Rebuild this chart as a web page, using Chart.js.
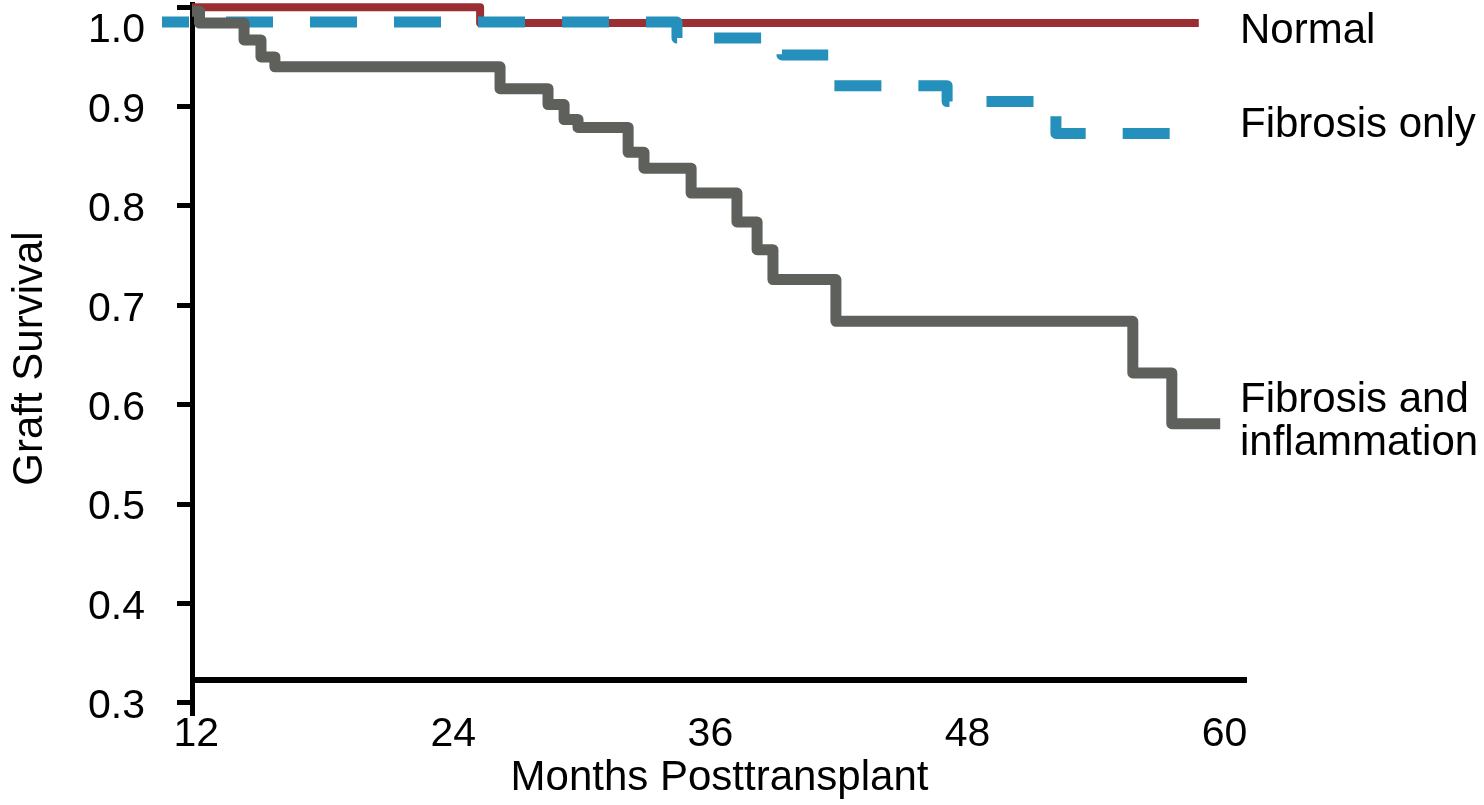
<!DOCTYPE html>
<html>
<head>
<meta charset="utf-8">
<title>Graft Survival</title>
<script src="https://cdn.jsdelivr.net/npm/chart.js@4"></script>
<style>
  html, body { margin: 0; padding: 0; background: #fff; }
  #wrap { width: 1484px; height: 805px; position: relative; }
</style>
</head>
<body>
<div id="wrap"><canvas id="survivalChart"></canvas></div>
<script>
// Kaplan-Meier style graft survival
const X_TICKS = [12, 24, 36, 48, 60];
const Y_TICKS = [0.3, 0.4, 0.5, 0.6, 0.7, 0.8, 0.9, 1.0];

const NORMAL_MONTHS = [11.8, 25.25, 58.8];
const NORMAL_SURV = [1.0, 0.984, 0.984];

const FIBROSIS_MONTHS = [10.4, 34.44, 39.34, 41.63, 47.05, 52.13, 58.8];
const FIBROSIS_SURV = [0.985, 0.969, 0.952, 0.921, 0.905, 0.873, 0.873];

const INFLAM_MONTHS = [11.8, 12.15, 14.23, 15.02, 15.67, 26.18, 28.42, 29.17, 29.82,
  32.16, 32.9, 35.1, 37.24, 38.18, 38.92, 41.86, 55.72, 57.54, 59.8];
const INFLAM_SURV = [0.996, 0.984, 0.967, 0.950, 0.940, 0.918, 0.902, 0.887, 0.879,
  0.854, 0.838, 0.813, 0.784, 0.756, 0.726, 0.684, 0.632, 0.581, 0.581];

const SERIES_LABELS = [["Normal"], ["Fibrosis only"], ["Fibrosis and", "inflammation"]];

const X_AXIS_AT = 0.3231; // where the horizontal axis line sits on the y scale

const FONT = '"Liberation Sans", Arial, Helvetica, sans-serif';
Chart.defaults.font.family = FONT;
Chart.defaults.color = "#000";

function toPoints(xs, ys) {
  return xs.map((x, i) => ({ x: x, y: ys[i] }));
}

// axis line + end labels
const extras = {
  id: "extras",
  afterDraw(chart) {
    const ctx = chart.ctx;
    const area = chart.chartArea;
    const yAxis = chart.scales.y;

    const yLine = yAxis.getPixelForValue(X_AXIS_AT);
    ctx.save();
    ctx.strokeStyle = "#000";
    ctx.lineWidth = 6;
    ctx.beginPath();
    ctx.moveTo(area.left, yLine);
    ctx.lineTo(area.right, yLine);
    ctx.stroke();

    ctx.fillStyle = "#000";
    ctx.font = "42px " + FONT;
    ctx.textAlign = "left";
    ctx.textBaseline = "alphabetic";
    const baselines = [[43], [137], [412, 455]];
    SERIES_LABELS.forEach((lines, i) => {
      lines.forEach((txt, j) => ctx.fillText(txt, 1240, baselines[i][j]));
    });
    ctx.restore();
  }
};

new Chart(document.getElementById("survivalChart"), {
  type: "line",
  data: {
    datasets: [
      {
        label: "Fibrosis and inflammation",
        data: toPoints(INFLAM_MONTHS, INFLAM_SURV),
        borderColor: "#5e605c",
        borderWidth: 11,
        stepped: "before",
        borderJoinStyle: "round",
        borderCapStyle: "butt",
        pointRadius: 0,
        clip: false
      },
      {
        label: "Fibrosis only",
        data: toPoints(FIBROSIS_MONTHS, FIBROSIS_SURV),
        borderColor: "#2590bb",
        borderWidth: 11,
        borderDash: [47, 37],
        borderDashOffset: 20,
        stepped: "before",
        borderJoinStyle: "round",
        borderCapStyle: "butt",
        pointRadius: 0,
        clip: false
      },
      {
        label: "Normal",
        data: toPoints(NORMAL_MONTHS, NORMAL_SURV),
        borderColor: "#9a2e33",
        borderWidth: 8,
        stepped: "before",
        borderJoinStyle: "round",
        borderCapStyle: "butt",
        pointRadius: 0,
        clip: false
      }
    ]
  },
  options: {
    responsive: true,
    maintainAspectRatio: false,
    animation: false,
    layout: { padding: { left: 5, right: 237, top: 4, bottom: 0 } },
    plugins: {
      legend: { display: false },
      tooltip: { enabled: false }
    },
    scales: {
      x: {
        type: "linear",
        min: 11.8,
        max: 61.05,
        afterBuildTicks: (s) => { s.ticks = X_TICKS.map((v) => ({ value: v })); },
        afterFit: (s) => { s.height = 92; s.paddingLeft = 0; s.paddingRight = 0; },
        grid: { display: false, drawTicks: false },
        border: { display: false },
        ticks: {
          font: { size: 41 },
          color: "#000",
          padding: -3,
          maxRotation: 0,
          autoSkip: false,
          callback: (v) => String(v)
        },
        title: {
          display: true,
          text: "Months Posttransplant",
          font: { size: 42 },
          color: "#000",
          padding: { top: 0, bottom: 1 }
        }
      },
      y: {
        type: "linear",
        min: 0.2899,
        max: 1.0032,
        afterBuildTicks: (s) => { s.ticks = Y_TICKS.map((v) => ({ value: v })); },
        afterFit: (s) => { s.width = 187; s.paddingTop = 0; s.paddingBottom = 0; },
        grid: {
          display: true,
          drawOnChartArea: false,
          drawTicks: true,
          tickLength: 15,
          color: "#000",
          lineWidth: 5
        },
        border: { display: true, color: "#000", width: 5 },
        ticks: {
          font: { size: 41, lineHeight: 0.95 },
          color: "#000",
          padding: 32,
          labelOffset: 4,
          autoSkip: false,
          // top label sits a line below its tick, as in the figure
          callback: (v) => (v === 1 ? ["", "1.0"] : v.toFixed(1))
        },
        title: {
          display: true,
          text: "Graft Survival",
          font: { size: 42 },
          color: "#000",
          padding: { top: 0, bottom: 0 }
        }
      }
    }
  },
  plugins: [extras]
});
</script>
</body>
</html>
